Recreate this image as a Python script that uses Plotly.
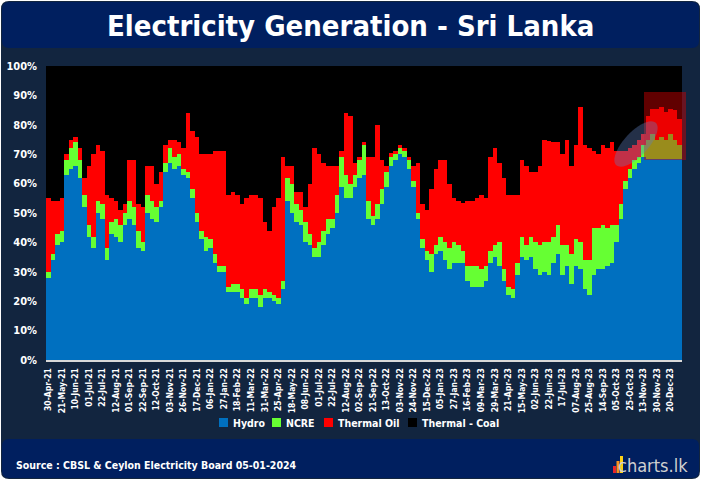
import math
import plotly.graph_objects as go

# ---- data (weekly shares, %) ----
tick_labels = ["30-Apr-21", "21-May-21", "10-Jun-21", "01-Jul-21", "22-Jul-21", "12-Aug-21",
               "01-Sep-21", "22-Sep-21", "12-Oct-21", "03-Nov-21", "26-Nov-21", "17-Dec-21",
               "06-Jan-22", "27-Jan-22", "18-Feb-22", "11-Mar-22", "31-Mar-22", "25-Apr-22",
               "18-May-22", "08-Jun-22", "01-Jul-22", "22-Jul-22", "12-Aug-22", "02-Sep-22",
               "21-Sep-22", "13-Oct-22", "03-Nov-22", "24-Nov-22", "15-Dec-22", "05-Jan-23",
               "27-Jan-23", "16-Feb-23", "09-Mar-23", "29-Mar-23", "21-Apr-23", "15-May-23",
               "02-Jun-23", "22-Jun-23", "17-Jul-23", "07-Aug-23", "25-Aug-23", "14-Sep-23",
               "05-Oct-23", "25-Oct-23", "13-Nov-23", "30-Nov-23", "20-Dec-23"]
y_tick_values = [0, 10, 20, 30, 40, 50, 60, 70, 80, 90, 100]
y_tick_labels = ["0%", "10%", "20%", "30%", "40%", "50%", "60%", "70%", "80%", "90%", "100%"]

hydro = [28, 34, 39, 40, 63, 65, 66, 62, 52, 42, 38, 50, 48, 34, 43, 42, 40, 46, 48, 46,
         38, 37, 50, 48, 47, 52, 64, 67, 65, 66, 63, 62, 55, 47, 41, 37, 38, 33, 30, 30,
         23, 23, 23, 21, 19, 21, 21, 18, 21, 21, 20, 19, 24, 54, 50, 47, 46, 40, 39, 35,
         35, 39, 43, 45, 50, 59, 55, 55, 59, 62, 63, 48, 46, 48, 53, 59, 66, 68, 70, 69,
         65, 59, 48, 38, 34, 30, 36, 37, 34, 31, 33, 33, 33, 27, 25, 25, 25, 27, 33, 35,
         32, 27, 22, 21, 29, 35, 34, 35, 31, 29, 30, 29, 33, 36, 29, 32, 26, 32, 31, 24,
         22, 29, 31, 31, 32, 33, 40, 48, 58, 62, 65, 67, 69, 68.5, 68.5, 68.5, 68.5, 68.5,
         68.5, 68.5, 68.5]
ncre = [2, 2, 4, 4, 5, 7, 8, 6, 4, 4, 4, 4, 5, 4, 4, 6, 6, 4, 6, 6,
        6, 3, 6, 6, 5, 2, 3, 5, 4, 4, 2, 2, 3, 3, 3, 5, 3, 3, 2, 2,
        2, 3, 3, 3, 2, 3, 3, 4, 3, 2, 2, 2, 3, 8, 10, 6, 5, 7, 4, 3,
        5, 5, 5, 3, 6, 10, 8, 5, 4, 6, 10, 6, 3, 5, 5, 5, 3, 2, 2, 2,
        3, 2, 2, 3, 3, 6, 3, 5, 6, 7, 7, 6, 4, 5, 7, 7, 6, 5, 4, 4,
        8, 4, 3, 3, 4, 7, 5, 7, 9, 10, 10, 11, 9, 10, 10, 7, 10, 9, 9, 10,
        12, 16, 14, 15, 13, 13, 6, 5, 3, 3, 3, 2, 4, 6.5, 8.5, 6.5, 7.5, 6.5,
        8.5, 6.5, 4.5]
thermal_oil = [25, 18, 11, 11, 2, 3, 2, 4, 6, 20, 28, 19, 18, 18, 8, 6, 5, 3, 14, 16,
               9, 12, 10, 12, 8, 10, 6, 3, 6, 4, 7, 20, 20, 26, 26, 28, 29, 35, 39, 39,
               31, 31, 30, 29, 34, 32, 32, 33, 23, 21, 30, 34, 42, 4, 6, 4, 6, 5, 17, 34,
               30, 23, 18, 18, 10, 2, 21, 23, 4, 1, 1, 15, 20, 27, 10, 2, 1.5, 1, 1, 1,
               1, 5, 17, 12, 14, 22, 26, 26, 28, 22, 15, 15, 16.5, 22, 22, 23, 25, 23, 32, 33,
               27, 31, 31, 32, 23, 26, 27, 22, 24, 27, 35, 34.5, 32, 28, 31, 36, 30, 32, 46, 39,
               38, 26, 25, 27, 27, 28, 25, 18, 10, 7, 5, 6, 4, 8, 8.5, 10.5, 10, 9.5,
               8.5, 10, 9]
thermal_coal = [45, 46, 46, 45, 30, 25, 24, 28, 38, 34, 30, 27, 29, 44, 45, 46, 49, 47, 32, 32,
                47, 48, 34, 34, 40, 36, 27, 25, 25, 26, 28, 16, 22, 24, 30, 30, 30, 29, 29, 29,
                44, 43, 44, 47, 45, 44, 44, 45, 53, 56, 48, 45, 31, 34, 34, 43, 43, 48, 40, 28,
                30, 33, 34, 34, 34, 29, 16, 17, 33, 31, 26, 31, 31, 20, 32, 34, 29.5, 29, 27, 28,
                31, 34, 33, 47, 49, 42, 35, 32, 32, 40, 45, 46, 46.5, 46, 46, 45, 44, 45, 31, 28,
                33, 38, 44, 44, 44, 32, 34, 36, 36, 34, 25, 25.5, 26, 26, 30, 25, 34, 27, 14, 27,
                28, 29, 30, 27, 28, 26, 29, 29, 29, 28, 27, 25, 23, 17, 14.5, 14.5, 14, 15.5,
                14.5, 15, 18]

series_names = ["Hydro", "NCRE", "Thermal Oil", "Thermal - Coal"]
series_values = [hydro, ncre, thermal_oil, thermal_coal]
series_colors = ["#0070C0", "#66FF33", "#FF0000", "#000000"]

W, H = 701, 480
L, R, T, B = 46, 19, 66, 120
pw, ph = W - L - R, H - T - B


def px(x):
    return (x - L) / pw


def py(y):
    return (H - B - y) / ph


n = len(hydro)
xs = list(range(n))

fig = go.Figure()
for name, vals, col in zip(series_names, series_values, series_colors):
    fig.add_trace(go.Bar(x=xs, y=vals, name=name, marker=dict(color=col, line=dict(width=0)),
                         hoverinfo="skip", showlegend=False))

cond = "DejaVu Sans Condensed, DejaVu Sans, sans-serif"


def rounded_rect(x0, y0, x1, y1, r):
    return (f"M {px(x0 + r)},{py(y0)} L {px(x1 - r)},{py(y0)} "
            f"Q {px(x1)},{py(y0)} {px(x1)},{py(y0 + r)} L {px(x1)},{py(y1 - r)} "
            f"Q {px(x1)},{py(y1)} {px(x1 - r)},{py(y1)} L {px(x0 + r)},{py(y1)} "
            f"Q {px(x0)},{py(y1)} {px(x0)},{py(y1 - r)} L {px(x0)},{py(y0 + r)} "
            f"Q {px(x0)},{py(y0)} {px(x0 + r)},{py(y0)} Z")


shapes = [
    dict(type="path", xref="paper", yref="paper", path=rounded_rect(1, 1, 700, 479, 8),
         fillcolor="#12253f", line=dict(width=0), layer="below"),
    dict(type="path", xref="paper", yref="paper", path=rounded_rect(2, 2, 699, 48, 7),
         fillcolor="#001f5f", line=dict(width=0), layer="below"),
    dict(type="path", xref="paper", yref="paper", path=rounded_rect(2, 439, 699, 478, 7),
         fillcolor="#001f5f", line=dict(width=0), layer="below"),
]

# highlight rectangle (top-right)
shapes.append(dict(type="rect", xref="paper", yref="paper", x0=px(644), x1=px(686),
                   y0=py(160), y1=py(92), fillcolor="rgba(215,0,0,0.45)",
                   line=dict(width=0), layer="above"))

# tilted ellipse
cx, cy, a, b, th = 636, 144, 29, 12, math.radians(47)
pts = []
for k in range(49):
    t = 2 * math.pi * k / 48
    ex = cx + a * math.cos(t) * math.cos(th) - b * math.sin(t) * math.sin(th)
    ey = cy - (a * math.cos(t) * math.sin(th) + b * math.sin(t) * math.cos(th))
    pts.append(f"{px(ex):.5f},{py(ey):.5f}")
shapes.append(dict(type="path", xref="paper", yref="paper",
                   path="M " + " L ".join(pts) + " Z",
                   fillcolor="rgba(95,125,190,0.38)", line=dict(width=0), layer="above"))

# logo icon bars
for (x0, x1, y0, y1, c) in [(613, 616, 466, 473, "#e8262a"), (616.5, 619.5, 461, 473, "#f7931e"),
                            (620, 623, 456, 473, "#fcd116")]:
    shapes.append(dict(type="rect", xref="paper", yref="paper", x0=px(x0), x1=px(x1),
                       y0=py(y1), y1=py(y0), fillcolor=c, line=dict(width=0), layer="above"))

annotations = [
    dict(text="<b>Electricity Generation - Sri Lanka</b>", xref="paper", yref="paper",
         x=px(350), y=py(26), xanchor="center", yanchor="middle", showarrow=False,
         font=dict(family=cond, size=29, color="white")),
    dict(text="<b>Source : CBSL &amp; Ceylon Electricity Board 05-01-2024</b>", xref="paper",
         yref="paper", x=px(14), y=py(465), xanchor="left", yanchor="middle", showarrow=False,
         font=dict(family=cond, size=10.5, color="white")),
    dict(text="charts.lk", xref="paper", yref="paper", x=px(690), y=py(465), xanchor="right",
         yanchor="middle", showarrow=False, font=dict(family=cond, size=18, color="#d0d0d0")),
]

# manual legend (squares + labels)
legend_x = [219, 272, 324, 408]
for name, col, lx in zip(series_names, series_colors, legend_x):
    shapes.append(dict(type="rect", xref="paper", yref="paper", x0=px(lx), x1=px(lx + 9),
                       y0=py(427), y1=py(418), fillcolor=col, line=dict(width=0),
                       layer="above"))
    annotations.append(dict(text=f"<b>{name}</b>", xref="paper", yref="paper", x=px(lx + 12),
                            y=py(422.5), xanchor="left", yanchor="middle", showarrow=False,
                            font=dict(family=cond, size=10.5, color="white")))

fig.update_layout(
    width=W, height=H,
    margin=dict(l=L, r=R, t=T, b=B, pad=0),
    paper_bgcolor="white", plot_bgcolor="black",
    barmode="stack", bargap=0,
    shapes=shapes, annotations=annotations,
    showlegend=False,
    font=dict(family=cond, color="white"),
)
fig.update_xaxes(range=[-0.5, n - 0.5], tickmode="array",
                 tickvals=[3 * j for j in range(len(tick_labels))],
                 ticktext=[f"<b>{t}</b>" for t in tick_labels],
                 tickangle=-90, tickfont=dict(family=cond, size=8.5, color="white"),
                 showgrid=False, zeroline=False, showline=True, linecolor="#d9d9d9",
                 linewidth=1.5, ticks="", ticklabelstandoff=3, automargin=False)
fig.update_yaxes(range=[0, 100], tickmode="array", tickvals=y_tick_values,
                 ticktext=[f"<b>{t}</b>" for t in y_tick_labels],
                 tickfont=dict(family=cond, size=11, color="white"),
                 showgrid=False, zeroline=False, showline=False, ticks="",
                 ticklabelstandoff=8, automargin=False)

fig.write_html("out.html", config={"displayModeBar": False},
               post_script="document.body.style.margin='0';")
